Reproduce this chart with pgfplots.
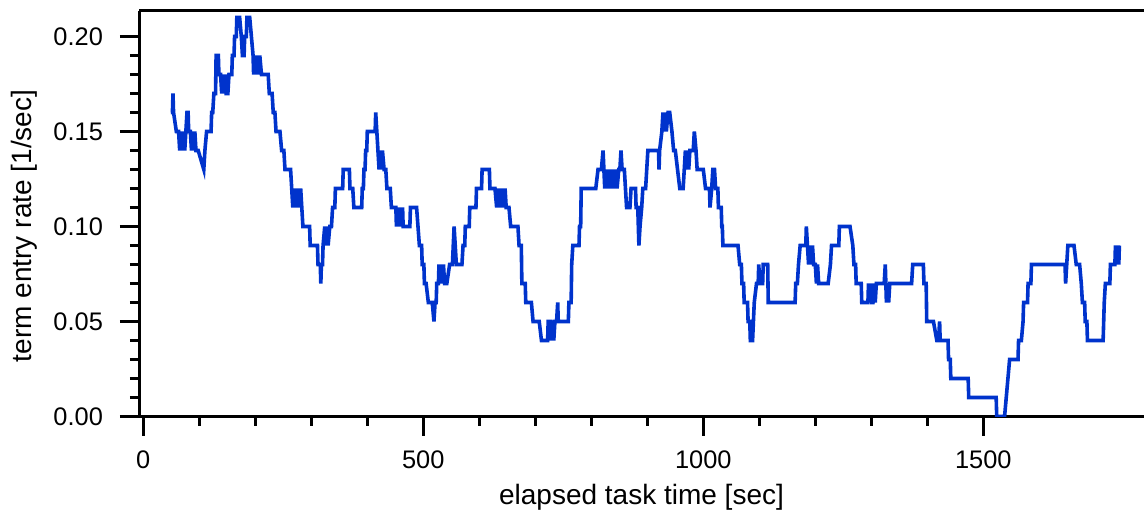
\documentclass[border=0pt]{standalone}
\usepackage{fontspec}
\setmainfont{Liberation Sans}
\usepackage{pgfplots}
\pgfplotsset{compat=1.18}
\usepackage{pgfplotstable}
\definecolor{rateblue}{RGB}{0,51,204}

% term entry rate over elapsed task time
\pgfplotstableread{
t rate
49 0.16
52 0.16
53 0.17
54 0.16
59 0.15
63 0.15
65 0.14
67 0.15
69 0.14
72 0.15
74 0.14
76 0.15
78 0.16
80 0.16
81 0.15
84 0.15
86 0.14
88 0.15
90 0.14
92 0.15
94 0.14
98 0.14
108 0.13
110 0.14
113 0.15
121 0.15
122 0.16
124 0.16
126 0.17
129 0.17
130 0.19
134 0.19
135 0.18
138 0.18
140 0.17
142 0.18
144 0.17
146 0.18
148 0.17
151 0.17
153 0.18
158 0.18
159 0.19
162 0.19
163 0.20
166 0.20
167 0.21
172 0.21
175 0.20
177 0.19
180 0.19
181 0.20
184 0.20
185 0.21
190 0.21
193 0.20
196 0.19
197 0.18
199 0.19
201 0.18
203 0.19
206 0.18
208 0.19
211 0.18
223 0.18
225 0.17
230 0.17
232 0.16
235 0.16
237 0.15
244 0.15
247 0.14
251 0.14
253 0.13
263 0.13
265 0.12
267 0.11
269 0.12
272 0.11
275 0.12
278 0.11
281 0.12
283 0.11
285 0.10
297 0.10
298 0.09
311 0.09
312 0.08
316 0.08
317 0.07
318 0.08
320 0.08
321 0.09
324 0.10
326 0.09
328 0.10
330 0.09
333 0.10
336 0.10
338 0.11
342 0.11
343 0.12
356 0.12
357 0.13
368 0.13
369 0.12
374 0.12
376 0.11
390 0.11
391 0.12
393 0.12
394 0.13
396 0.13
397 0.14
399 0.14
400 0.15
414 0.15
415 0.16
417 0.15
419 0.14
421 0.13
423 0.14
425 0.13
427 0.14
430 0.13
433 0.13
435 0.12
441 0.12
443 0.11
451 0.11
452 0.10
454 0.11
456 0.10
458 0.11
460 0.10
463 0.11
464 0.10
476 0.10
477 0.11
488 0.11
493 0.09
497 0.09
498 0.08
501 0.08
502 0.07
505 0.07
509 0.06
516 0.06
519 0.05
521 0.06
523 0.06
524 0.07
527 0.07
528 0.08
530 0.07
532 0.08
534 0.07
536 0.08
538 0.07
542 0.07
547 0.08
552 0.08
555 0.10
557 0.09
559 0.08
569 0.08
571 0.09
574 0.09
575 0.10
582 0.10
583 0.11
594 0.11
595 0.12
604 0.12
605 0.13
618 0.13
619 0.12
628 0.12
631 0.11
634 0.12
636 0.11
638 0.12
640 0.11
642 0.12
644 0.11
646 0.12
648 0.11
653 0.11
656 0.10
669 0.10
671 0.09
675 0.09
676 0.07
682 0.07
683 0.06
693 0.06
696 0.05
707 0.05
711 0.04
722 0.04
723 0.05
728 0.05
729 0.04
731 0.05
733 0.04
735 0.05
738 0.05
740 0.06
741 0.05
759 0.05
760 0.06
764 0.06
765 0.08
767 0.09
778 0.09
779 0.10
781 0.10
782 0.12
808 0.12
812 0.13
818 0.13
821 0.14
824 0.12
826 0.13
829 0.12
831 0.13
834 0.12
837 0.13
840 0.12
843 0.13
846 0.12
849 0.13
851 0.13
853 0.14
855 0.13
859 0.13
863 0.11
869 0.11
871 0.12
879 0.12
880 0.11
883 0.11
885 0.09
887 0.10
890 0.11
892 0.12
897 0.12
899 0.13
901 0.14
920 0.14
921 0.13
922 0.14
926 0.15
928 0.16
930 0.15
932 0.16
934 0.15
937 0.16
940 0.16
944 0.15
947 0.14
950 0.14
958 0.12
964 0.12
966 0.13
968 0.14
970 0.13
972 0.14
974 0.13
976 0.14
982 0.14
984 0.15
987 0.14
989 0.13
1000 0.13
1004 0.12
1011 0.12
1012 0.11
1015 0.12
1017 0.13
1020 0.13
1022 0.12
1026 0.12
1027 0.11
1032 0.11
1033 0.10
1034 0.10
1035 0.09
1062 0.09
1065 0.08
1068 0.08
1069 0.07
1072 0.07
1073 0.06
1079 0.06
1080 0.05
1083 0.05
1084 0.04
1088 0.04
1091 0.06
1095 0.07
1098 0.07
1099 0.08
1101 0.07
1106 0.07
1107 0.08
1115 0.08
1116 0.06
1164 0.06
1165 0.07
1168 0.07
1170 0.08
1173 0.09
1183 0.09
1184 0.10
1186 0.09
1188 0.08
1190 0.09
1192 0.08
1195 0.09
1197 0.08
1200 0.08
1202 0.07
1204 0.08
1206 0.07
1209 0.07
1223 0.07
1227 0.08
1229 0.09
1242 0.09
1243 0.10
1262 0.10
1267 0.09
1269 0.08
1272 0.08
1273 0.07
1282 0.07
1283 0.06
1294 0.06
1295 0.07
1297 0.06
1299 0.07
1301 0.06
1303 0.06
1305 0.07
1307 0.06
1309 0.07
1323 0.07
1325 0.08
1327 0.06
1329 0.07
1331 0.06
1333 0.07
1341 0.07
1372 0.07
1374 0.08
1393 0.08
1394 0.07
1398 0.07
1399 0.05
1411 0.05
1417 0.04
1420 0.04
1422 0.05
1423 0.04
1437 0.04
1438 0.03
1441 0.03
1442 0.02
1473 0.02
1474 0.01
1523 0.01
1524 0.00
1538 0.00
1544 0.02
1547 0.03
1562 0.03
1563 0.04
1568 0.04
1571 0.05
1572 0.06
1579 0.06
1580 0.07
1585 0.07
1586 0.08
1646 0.08
1647 0.07
1649 0.08
1651 0.09
1662 0.09
1666 0.08
1672 0.08
1675 0.07
1677 0.06
1681 0.06
1682 0.05
1685 0.05
1686 0.04
1714 0.04
1716 0.06
1718 0.07
1726 0.07
1727 0.08
1735 0.08
1736 0.09
1738 0.08
1740 0.09
1742 0.08
1743 0.09
}\ratetable

\begin{document}
\begin{tikzpicture}
\begin{axis}[
  scale only axis,
  width=502.5pt, height=202.75pt,
  xmin=-7.7, xmax=1787,
  ymin=0, ymax=0.2134,
  axis x line*=box, axis y line*=left,
  xtick pos=bottom, ytick pos=left,
  tick align=outside,
  xtick={0,500,1000,1500},
  ytick={0,0.05,0.1,0.15,0.2},
  minor x tick num=4, minor y tick num=4,
  major tick length=9.5pt, minor tick length=4.5pt,
  tick style={black, line width=1.3pt},
  axis line style={black, line width=1.5pt},
  /pgf/number format/assume math mode=true,
  tick label style={font=\fontsize{12.7}{14}\selectfont},
  x tick label style={yshift=-6.5pt, inner sep=1pt, /pgf/number format/.cd, 1000 sep={}},
  y tick label style={xshift=-5pt, /pgf/number format/.cd, fixed, fixed zerofill, precision=2},
  xlabel={elapsed task time [sec]},
  ylabel={term entry rate [1/sec]},
  label style={font=\fontsize{14}{16}\selectfont},
  xlabel style={at={(axis description cs:0.5,-0.2)}, anchor=center, inner sep=1pt},
  ylabel style={at={(axis description cs:-0.1144,0.47)}, anchor=center},
]
\addplot[rateblue, line width=1.8pt] table[x=t, y=rate]{\ratetable};
\end{axis}
\pgfresetboundingbox
\path (current axis.south west) ++(-69.5pt,-48.75pt) rectangle ++(572pt,257pt);
\end{tikzpicture}
\end{document}
